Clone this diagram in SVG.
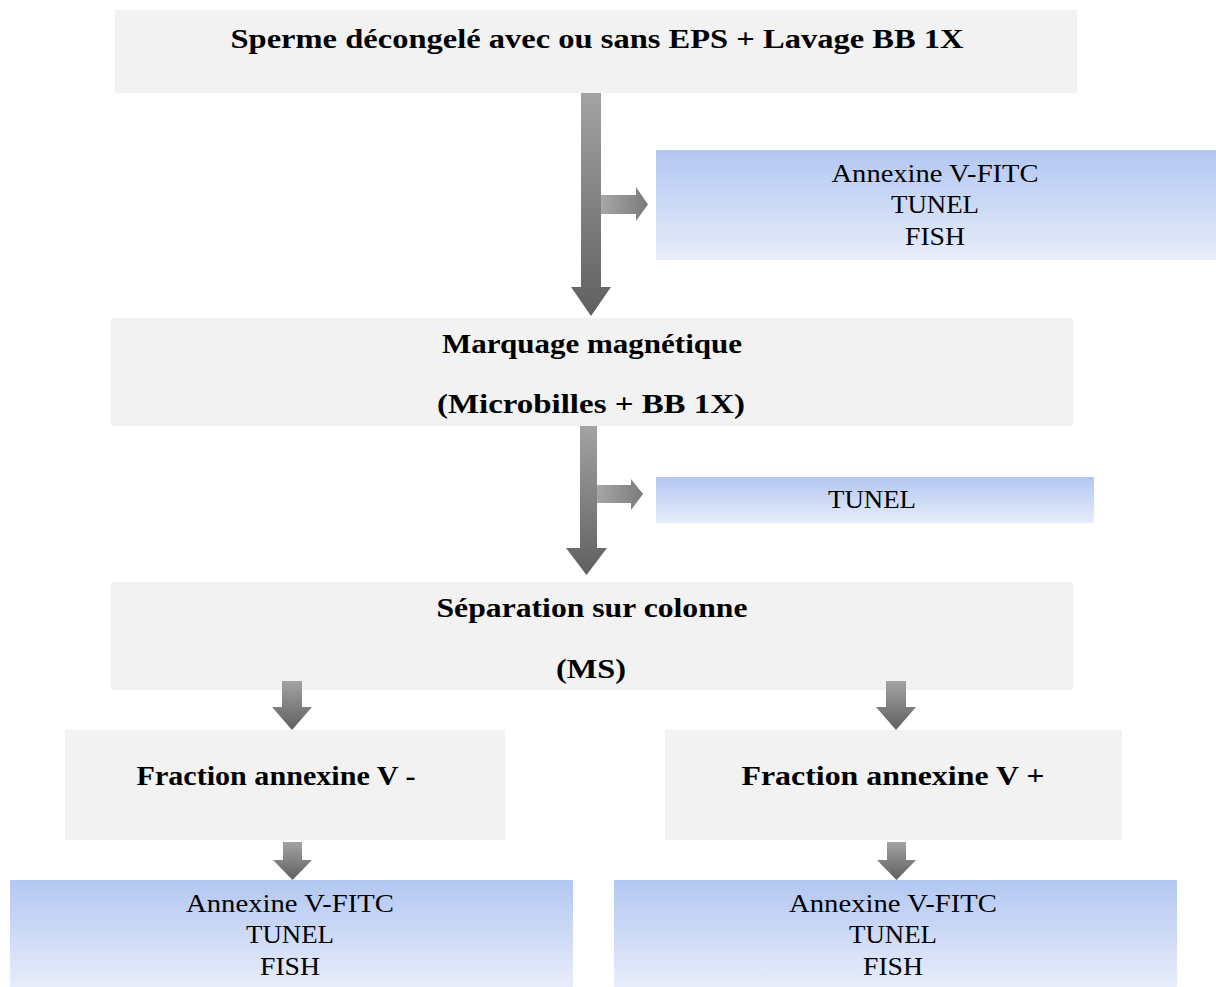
<svg xmlns="http://www.w3.org/2000/svg" width="1216" height="987" viewBox="0 0 1216 987">
<defs>
<linearGradient id="blue" x1="0" y1="0" x2="0" y2="1">
<stop offset="0" stop-color="#b3c7f2"/>
<stop offset="1" stop-color="#e7edfa"/>
</linearGradient>
<linearGradient id="gv" x1="0" y1="0" x2="0" y2="1">
<stop offset="0" stop-color="#a3a3a3"/>
<stop offset="1" stop-color="#5f5f5f"/>
</linearGradient>
<linearGradient id="gh" x1="0" y1="0" x2="1" y2="0">
<stop offset="0" stop-color="#a8a8a8"/>
<stop offset="1" stop-color="#7a7a7a"/>
</linearGradient>
</defs>
<style>
.gray{fill:#f2f2f2}
.blue{fill:url(#blue)}
.main{font-family:"Liberation Serif","Times New Roman",serif;font-size:28px;font-weight:bold;fill:#000;text-anchor:middle}
.sub{font-family:"Liberation Serif","Times New Roman",serif;font-size:25px;fill:#000;text-anchor:middle}
.av{fill:url(#gv)}
.ah{fill:url(#gh)}
</style>
<rect width="1216" height="987" fill="#ffffff"/>

<g id="n1">
<rect class="gray" x="115" y="10" width="962" height="83"/>
<text class="main" x="597" y="48" textLength="733" lengthAdjust="spacingAndGlyphs">Sperme décongelé avec ou sans EPS + Lavage BB 1X</text>
</g>

<g id="n2">
<rect class="blue" x="656" y="150" width="560" height="110"/>
<text class="sub" x="935" y="182" textLength="207" lengthAdjust="spacingAndGlyphs">Annexine V-FITC</text>
<text class="sub" x="935" y="213" textLength="88" lengthAdjust="spacingAndGlyphs">TUNEL</text>
<text class="sub" x="935" y="245" textLength="60" lengthAdjust="spacingAndGlyphs">FISH</text>
</g>

<g id="n3">
<rect class="gray" x="111" y="318" width="962" height="108"/>
<text class="main" x="592" y="353" textLength="300" lengthAdjust="spacingAndGlyphs">Marquage magnétique</text>
<text class="main" x="591" y="413" textLength="308" lengthAdjust="spacingAndGlyphs">(Microbilles + BB 1X)</text>
</g>

<g id="n4">
<rect class="blue" x="656" y="477" width="438" height="46"/>
<text class="sub" x="872" y="508" textLength="88" lengthAdjust="spacingAndGlyphs">TUNEL</text>
</g>

<g id="n5">
<rect class="gray" x="111" y="582" width="962" height="108"/>
<text class="main" x="592" y="617" textLength="311" lengthAdjust="spacingAndGlyphs">Séparation sur colonne</text>
<text class="main" x="591" y="678" textLength="70" lengthAdjust="spacingAndGlyphs">(MS)</text>
</g>

<g id="n6">
<rect class="gray" x="65" y="730" width="440" height="110"/>
<text class="main" x="276" y="785" textLength="279" lengthAdjust="spacingAndGlyphs">Fraction annexine V -</text>
</g>

<g id="n7">
<rect class="gray" x="665" y="730" width="457" height="110"/>
<text class="main" x="893" y="785" textLength="303" lengthAdjust="spacingAndGlyphs">Fraction annexine V +</text>
</g>

<g id="n8">
<rect class="blue" x="10" y="880" width="563" height="107"/>
<text class="sub" x="290" y="912" textLength="208" lengthAdjust="spacingAndGlyphs">Annexine V-FITC</text>
<text class="sub" x="290" y="943" textLength="88" lengthAdjust="spacingAndGlyphs">TUNEL</text>
<text class="sub" x="290" y="975" textLength="60" lengthAdjust="spacingAndGlyphs">FISH</text>
</g>

<g id="n9">
<rect class="blue" x="614" y="880" width="563" height="107"/>
<text class="sub" x="893" y="912" textLength="208" lengthAdjust="spacingAndGlyphs">Annexine V-FITC</text>
<text class="sub" x="893" y="943" textLength="88" lengthAdjust="spacingAndGlyphs">TUNEL</text>
<text class="sub" x="893" y="975" textLength="60" lengthAdjust="spacingAndGlyphs">FISH</text>
</g>

<g id="connectors">
<polygon class="ah" points="600,195 636,195 636,187 648,204.5 636,221 636,214 600,214"/>
<polygon class="av" points="581,93 601,93 601,287 611,287 591,316 571,287 581,287"/>
<polygon class="ah" points="596,485 631,485 631,479 643,494 631,510 631,503 596,503"/>
<polygon class="av" points="580,426 597,426 597,548 607,548 586.5,575 566,548 580,548"/>
<polygon class="av" points="282,681 302,681 302,707 312,707 292,730 272,707 282,707"/>
<polygon class="av" points="886,681 906,681 906,707 916,707 896,730 876,707 886,707"/>
<polygon class="av" points="283,842 302,842 302,860 312,860 292.5,880 273,860 283,860"/>
<polygon class="av" points="887,842 906,842 906,860 916,860 896.5,880 877,860 887,860"/>
</g>
</svg>
